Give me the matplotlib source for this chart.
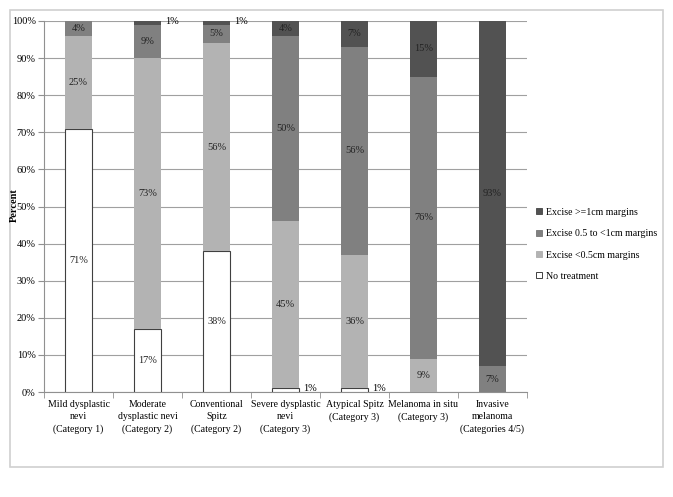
import matplotlib
matplotlib.use("Agg")
import matplotlib.pyplot as plt
from matplotlib.patches import Rectangle
from matplotlib.lines import Line2D
import numpy as np

categories = ["Mild dysplastic\nnevi\n(Category 1)",
              "Moderate\ndysplastic nevi\n(Category 2)",
              "Conventional\nSpitz\n(Category 2)",
              "Severe dysplastic\nnevi\n(Category 3)",
              "Atypical Spitz\n(Category 3)",
              "Melanoma in situ\n(Category 3)",
              "Invasive\nmelanoma\n(Categories 4/5)"]
no_treatment = [71, 17, 38, 1, 1, 0, 0]
excise_lt05 = [25, 73, 56, 45, 36, 9, 0]
excise_05_1 = [4, 9, 5, 50, 56, 76, 7]
excise_ge1 = [0, 1, 1, 4, 7, 15, 93]
series_names = ["No treatment", "Excise <0.5cm margins",
                "Excise 0.5 to <1cm margins", "Excise >=1cm margins"]
yticks = [0, 10, 20, 30, 40, 50, 60, 70, 80, 90, 100]

plt.rcParams['font.family'] = ['Liberation Serif', 'DejaVu Serif']
fs = 7.5
fs2 = 7.1

fig = plt.figure(figsize=(6.73, 4.97), dpi=100)
fig.patches.append(Rectangle((10/673, 1-467/497), 653/673, 457/497,
                             transform=fig.transFigure, fill=False,
                             edgecolor='#d0d0d0', linewidth=1.2))
ax = fig.add_axes([44/673, 1-392/497, 483/673, 371/497])

x = np.arange(len(categories))
w = 0.4
data = [no_treatment, excise_lt05, excise_05_1, excise_ge1]
colors = ['white', '#b3b3b3', '#808080', '#525252']
edges = ['#404040', '#b3b3b3', '#808080', '#525252']
bottom = np.zeros(len(categories))
for vals, c, ec, name in zip(data, colors, edges, series_names):
    vals = np.array(vals, dtype=float)
    ax.bar(x, vals, w, bottom=bottom, color=c, edgecolor=ec,
           linewidth=0.8 if c == 'white' else 0, label=name, zorder=3)
    for i, v in enumerate(vals):
        if v <= 0:
            continue
        if v <= 1.5:
            ax.text(x[i] + w/2 + 0.05, bottom[i] + v/2 + 0.5, f"{int(v)}%",
                    ha='left', va='center', fontsize=fs, zorder=4)
        else:
            ax.text(x[i], bottom[i] + v/2, f"{int(v)}%", ha='center',
                    va='center', fontsize=fs, zorder=4, color='#222222')
    bottom += vals

ax.set_xlim(-0.5, len(categories) - 0.5)
ax.set_ylim(0, 100)
ax.set_yticks(yticks)
ax.set_yticklabels([f"{t}%" for t in yticks], fontsize=fs)
ax.set_xticks(x)
ax.set_xticklabels(categories, fontsize=fs2, linespacing=1.45)
ax.tick_params(axis='x', length=0, pad=6)
ax.set_xticks(np.arange(-0.5, len(categories), 1), minor=True)
ax.tick_params(axis='x', which='minor', length=4, color='#909090')
ax.tick_params(axis='y', length=4, color='#909090', pad=2)
ax.yaxis.grid(True, color='#a0a0a0', linewidth=0.8, zorder=0)
ax.set_axisbelow(True)
for s in ['top', 'right']:
    ax.spines[s].set_visible(False)
ax.spines['left'].set_color('#909090')
ax.spines['bottom'].set_color('#909090')
fig.text(14/673, 1-205/497, "Percent", rotation=90, fontsize=fs,
         fontweight='bold', ha='center', va='center')

handles = []
for name, c in zip(series_names[::-1], colors[::-1]):
    handles.append(Line2D([], [], marker='s', linestyle='none', markersize=5,
                          markerfacecolor=c, markeredgecolor='#404040' if c == 'white' else c,
                          markeredgewidth=0.7))
fig.legend(handles, series_names[::-1], loc='upper left',
           bbox_to_anchor=(531/673, 1-204/497), frameon=False, fontsize=fs2,
           handletextpad=0.3, labelspacing=1.25, handlelength=0.8, borderaxespad=0)

fig.savefig("out.png", dpi=100)
